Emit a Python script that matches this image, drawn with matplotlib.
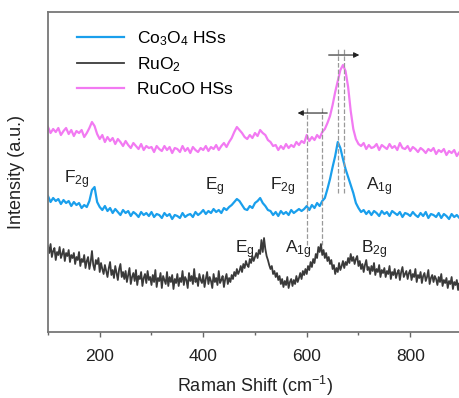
import numpy as np
import matplotlib
matplotlib.use("Agg")
import matplotlib.pyplot as plt

plt.rcParams['font.family'] = ['Liberation Sans', 'DejaVu Sans']
plt.rcParams['mathtext.fontset'] = 'custom'
plt.rcParams['mathtext.rm'] = 'Liberation Sans'

# deslocamento Raman (cm-1): passo 5 para Co3O4 / RuCoO, passo 2.5 para RuO2
raman = np.arange(100, 901, 5)
raman_fino = np.arange(100, 900.1, 2.5)

# RuCoO HSs (curva de cima)
rucoo = [205, 199, 203, 200, 204, 197, 201, 204, 198, 202, 196, 201, 199, 202, 195, 199, 204, 210, 206, 198,
         193, 197, 190, 195, 191, 194, 188, 193, 190, 186, 191, 187, 184, 189, 186, 183, 188, 182, 186, 184,
         185, 180, 186, 183, 181, 186, 182, 185, 179, 184, 183, 180, 186, 181, 184, 179, 185, 182, 180, 184,
         182, 186, 181, 185, 183, 187, 182, 186, 189, 185, 190, 194, 200, 205, 202, 199, 195, 193, 197, 194,
         199, 196, 202, 199, 197, 192, 190, 186, 187, 182, 186, 183, 188, 184, 187, 185, 190, 187, 191, 189,
         197, 191, 195, 192, 197, 194, 200, 203, 209, 216, 227, 240, 251, 262, 267, 261, 245, 221, 203, 193,
         188, 186, 189, 183, 187, 184, 185, 188, 182, 187, 185, 183, 188, 184, 186, 182, 189, 184, 183, 186,
         181, 185, 183, 180, 184, 182, 179, 183, 181, 184, 178, 182, 180, 183, 177, 181, 179, 182, 176, 180,
         178]

# Co3O4 HSs (curva do meio)
co3o4 = [136, 130, 134, 131, 133, 128, 132, 129, 131, 126, 130, 127, 129, 124, 127, 125, 131, 142, 145, 130,
         125, 122, 126, 121, 124, 119, 123, 120, 117, 122, 119, 121, 116, 120, 118, 115, 120, 117, 119, 116,
         120, 115, 118, 117, 114, 119, 116, 118, 113, 117, 116, 114, 119, 115, 117, 118, 115, 120, 117, 119,
         122, 118, 121, 119, 123, 120, 122, 119, 124, 122, 125, 127, 130, 133, 131, 127, 123, 122, 126, 124,
         129, 131, 134, 129, 126, 122, 121, 117, 120, 116, 121, 118, 120, 117, 122, 119, 121, 123, 121, 123,
         126, 122, 127, 124, 129, 126, 131, 134, 143, 153, 165, 176, 190, 184, 173, 163, 155, 147, 139, 129,
         124, 120, 122, 118, 121, 117, 121, 119, 116, 121, 118, 120, 116, 121, 119, 117, 120, 115, 119, 118,
         116, 120, 117, 115, 119, 116, 120, 114, 118, 117, 115, 119, 114, 118, 116, 113, 118, 115, 117, 114,
         116]

# RuO2 (curva de baixo, mais ruidosa)
ruo2 = [86, 79, 88, 75, 81, 84, 72, 80, 77, 85, 74, 78, 83, 71, 79, 76, 82, 70, 77, 74,
        79, 68, 75, 72, 80, 66, 73, 70, 77, 64, 71, 75, 63, 70, 81, 67, 62, 72, 68, 74,
        60, 69, 63, 58, 67, 61, 55, 64, 70, 57, 62, 54, 66, 59, 52, 63, 68, 55, 60, 53,
        61, 50, 57, 64, 48, 55, 59, 51, 62, 47, 56, 53, 60, 46, 54, 58, 49, 61, 52, 55,
        47, 57, 50, 62, 45, 54, 51, 59, 44, 56, 52, 48, 60, 46, 55, 50, 57, 43, 53, 49,
        58, 46, 54, 50, 61, 47, 55, 52, 44, 59, 51, 56, 48, 63, 50, 54, 46, 58, 52, 49,
        57, 45, 53, 60, 48, 55, 51, 44, 58, 50, 54, 47, 61, 49, 52, 56, 45, 53, 58, 48,
        54, 50, 57, 53, 60, 56, 63, 58, 61, 66, 60, 68, 64, 71, 67, 65, 73, 69, 76, 71,
        75, 79, 74, 82, 78, 92, 80, 94, 83, 76, 72, 67, 63, 66, 58, 61, 55, 59, 52, 56,
        48, 53, 45, 51, 47, 55, 44, 50, 53, 46, 52, 48, 56, 50, 54, 59, 53, 61, 57, 63,
        58, 66, 62, 70, 65, 73, 69, 78, 74, 85, 80, 88, 77, 82, 74, 79, 71, 75, 68, 72,
        63, 67, 58, 64, 60, 69, 62, 66, 71, 64, 70, 67, 74, 69, 78, 71, 75, 68, 73, 76,
        66, 71, 63, 68, 60, 67, 72, 62, 65, 58, 66, 61, 69, 57, 63, 60, 67, 55, 62, 59,
        64, 55, 61, 58, 66, 53, 60, 57, 63, 54, 59, 62, 52, 60, 65, 55, 58, 61, 53, 59,
        62, 52, 58, 55, 63, 50, 57, 54, 60, 49, 56, 59, 51, 55, 62, 48, 54, 57, 50, 56,
        53, 47, 55, 50, 58, 46, 52, 49, 54, 44, 51, 48, 55, 43, 50, 47, 52, 42, 49, 45,
        47]

fig = plt.figure(figsize=(4.6, 3.98), dpi=100)
ax = fig.add_axes([0.1043, 0.1658, 0.9, 0.804])

ax.plot(raman, co3o4, color='#1a9fec', lw=1.6, label=r'Co$\mathregular{_3}$O$\mathregular{_4}$ HSs')
ax.plot(raman_fino, ruo2, color='#3a3a3a', lw=1.3, label=r'RuO$\mathregular{_2}$')
ax.plot(raman, rucoo, color='#f27af2', lw=1.6, label='RuCoO HSs')

# linhas tracejadas das posicoes dos picos
for xv in [600.5, 629.4]:
    ax.plot([xv, xv], [87, 225], ls='--', color='#999999', lw=0.9)
for xv in [660.3, 671.8]:
    ax.plot([xv, xv], [139, 284], ls='--', color='#999999', lw=0.9)

# setas de deslocamento
ax.annotate('', xy=(577, 219), xytext=(645, 219),
            arrowprops=dict(arrowstyle='-|>', color='#222222', lw=0.8, mutation_scale=8))
ax.annotate('', xy=(707, 277), xytext=(637, 277),
            arrowprops=dict(arrowstyle='-|>', color='#222222', lw=0.8, mutation_scale=8))

# rotulos dos modos
fs = 12.5
modos = [(130, 149, r'$\mathregular{F_{2g}}$'), (404, 142, r'$\mathregular{E_g}$'),
         (529, 142, r'$\mathregular{F_{2g}}$'), (714, 142, r'$\mathregular{A_{1g}}$'),
         (462, 79, r'$\mathregular{E_g}$'), (558, 79, r'$\mathregular{A_{1g}}$'),
         (705, 79, r'$\mathregular{B_{2g}}$')]
for mx, my, txt in modos:
    ax.text(mx, my, txt, fontsize=fs, color='#222222', ha='left', va='baseline')

ax.set_xlim(100, 900)
ax.set_ylim(0, 320)
ax.set_xticks([200, 400, 600, 800])
ax.set_xticks([100, 300, 500, 700, 900], minor=True)
ax.set_yticks([])
ax.tick_params(axis='x', which='major', direction='out', length=3.5, width=1, pad=8.5,
               labelsize=fs, colors='#666666', labelcolor='#222222')
ax.tick_params(axis='x', which='minor', direction='out', length=2, width=1, colors='#666666')

for s in ['left', 'top', 'bottom', 'right']:
    ax.spines[s].set_color('#777777')
    ax.spines[s].set_linewidth(1.3)

ax.set_xlabel(r'Raman Shift (cm$\mathregular{^{-1}}$)', fontsize=13, color='#222222', labelpad=7)
ax.set_ylabel('Intensity (a.u.)', fontsize=13, color='#222222')
ax.yaxis.set_label_coords(-0.056, 0.5)

ax.legend(loc='upper left', bbox_to_anchor=(0.07, 0.947), frameon=False, fontsize=fs,
          handlelength=2.7, handletextpad=0.75, labelspacing=0.45, borderpad=0, borderaxespad=0)

fig.savefig('out.png', dpi=100)
